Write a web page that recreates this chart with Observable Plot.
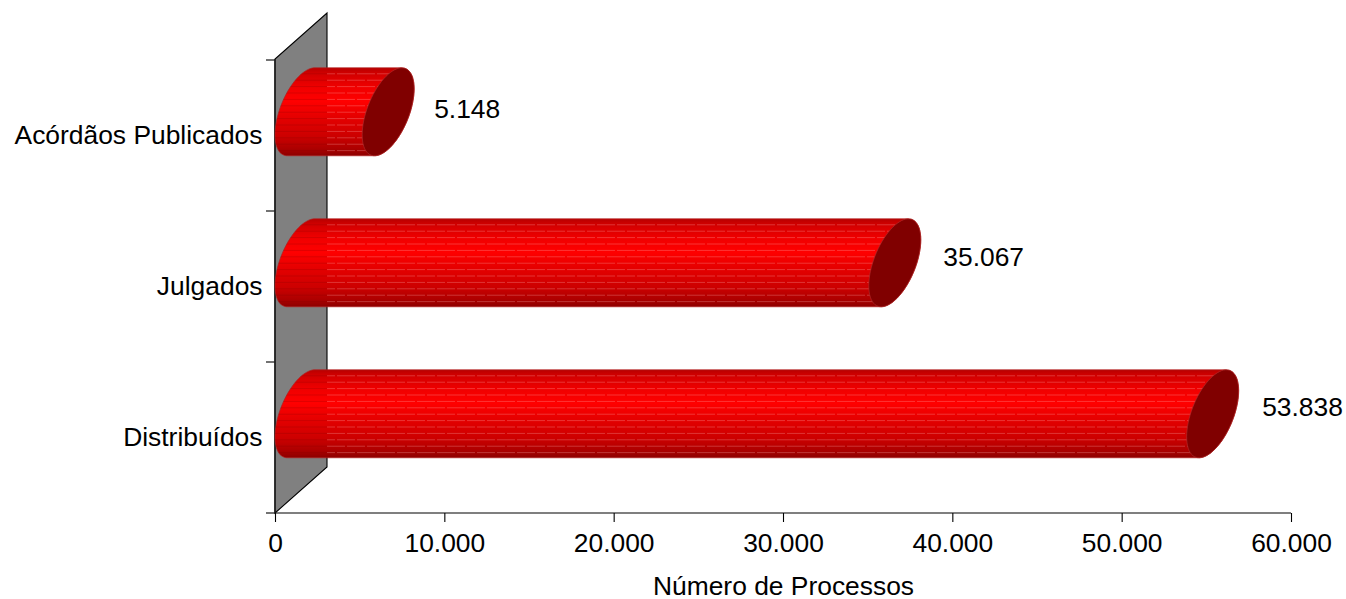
<!DOCTYPE html>
<html>
<head>
<meta charset="utf-8">
<script src="https://cdn.jsdelivr.net/npm/d3@7"></script>
<script src="https://cdn.jsdelivr.net/npm/@observablehq/plot@0.6"></script>
<style>
html,body{margin:0;padding:0;background:#fff}
svg{display:block}
</style>
</head>
<body>
<div id="chart"></div>
<script>
const categories = ["Acórdãos Publicados", "Julgados", "Distribuídos"];
const processos = [5148, 35067, 53838];
const xTicks = [0, 10000, 20000, 30000, 40000, 50000, 60000];
const xTitle = "Número de Processos";

const rows = categories.map((categoria, i) => ({categoria, valor: processos[i]}));
const ptBR = d3.formatLocale({decimal: ",", thousands: ".", grouping: [3], currency: ["R$", ""]});
const fmt = ptBR.format(",d");

// oblique projection of the 3D chart
const depthX = 52, depthY = 46, radius = 37.5;
const FONT = "'Liberation Sans', Arial, sans-serif";
const svgNS = "http://www.w3.org/2000/svg";
const el = (name, attrs, parent) => {
  const n = document.createElementNS(svgNS, name);
  for (const k in attrs) n.setAttribute(k, attrs[k]);
  if (parent) parent.appendChild(n);
  return n;
};

const wall = (index, scales, values, dims) => {
  const g = el("g", {});
  const x0 = scales.x(0), top = dims.marginTop, bot = dims.height - dims.marginBottom;
  el("polygon", {
    points: [[x0, bot], [x0 + depthX, bot - depthY], [x0 + depthX, top - depthY], [x0, top]].join(" "),
    fill: "#808080", stroke: "#000", "stroke-width": 1.1
  }, g);
  const ticks = categories.map(c => scales.y(c)).concat(bot);
  for (const t of ticks) el("line", {x1: x0 - 9, x2: x0, y1: t, y2: t, stroke: "#000", "stroke-width": 1.1}, g);
  el("line", {x1: x0, x2: x0, y1: top, y2: bot, stroke: "#222", "stroke-width": 1.6}, g);
  el("line", {x1: x0, x2: scales.x(xTicks[xTicks.length - 1]), y1: bot, y2: bot, stroke: "#000", "stroke-width": 1.1}, g);
  return g;
};

const cylinders = (index, scales, values, dims) => {
  const g = el("g", {});
  const defs = el("defs", {}, g);
  const band = scales.scales.y.bandwidth;
  const x0 = scales.x(0);
  const ellipse = (cx, cy) => d3.range(0, 72).map(i => {
    const t = i / 72 * 2 * Math.PI;
    return [cx + depthX / 2 * Math.sin(t), cy - radius * Math.cos(t) - depthY / 2 * Math.sin(t)];
  });
  const line = d3.line().curve(d3.curveLinearClosed);
  rows.forEach((r, i) => {
    const cy = scales.y(r.categoria) + band / 2 - depthY / 2 - 0.7;
    const xv = scales.x(r.valor);
    const left = ellipse(x0 + depthX / 2, cy);
    const right = ellipse(xv + depthX / 2, cy);
    const hull = d3.polygonHull(left.concat(right));
    const H = Math.sqrt(radius * radius + depthY * depthY / 4);
    const grad = el("linearGradient", {id: "g" + i, gradientUnits: "userSpaceOnUse", x1: 0, x2: 0, y1: cy - H, y2: cy + H}, defs);
    [[0, "#b80000"], [0.06, "#d00000"], [0.22, "#f00000"], [0.38, "#ff0000"], [0.55, "#e60000"], [0.78, "#cc0000"], [0.92, "#ac0000"], [1, "#8c0000"]]
      .forEach(([o, c]) => el("stop", {offset: o, "stop-color": c}, grad));
    const clip = el("clipPath", {id: "c" + i}, defs);
    el("path", {d: line(hull)}, clip);
    el("path", {d: line(hull), fill: `url(#g${i})`, stroke: "#b02020", "stroke-width": 0.7}, g);
    const stripes = el("g", {"clip-path": `url(#c${i})`}, g);
    const wallEnd = x0 + depthX;
    d3.range(cy - H + 6, cy + H, 6.4).forEach((yy, k) => {
      const offset = k % 2 ? 0 : 10;
      el("line", {x1: wallEnd, x2: xv + depthX, y1: yy, y2: yy, stroke: "#ffb8b8", "stroke-opacity": 0.36, "stroke-width": 0.8,
        "stroke-dasharray": "18 2", "stroke-dashoffset": offset}, stripes);
      el("line", {x1: x0, x2: wallEnd, y1: yy, y2: yy, stroke: "#800000", "stroke-opacity": 0.3, "stroke-width": 0.8}, stripes);
    });
    el("path", {d: line(right), fill: "#800000", stroke: "#b03030", "stroke-width": 0.6}, g);
  });
  return g;
};

const labelLift = {"Acórdãos Publicados": -26.5, "Julgados": -29.5, "Distribuídos": -30.5};
const labelShift = {"Acórdãos Publicados": 71.5, "Julgados": 74, "Distribuídos": 75};

const chart = Plot.plot({
  width: 1346,
  height: 599,
  marginLeft: 275,
  marginRight: 55,
  marginTop: 59,
  marginBottom: 86,
  style: {fontFamily: FONT, background: "#fff", overflow: "visible"},
  x: {domain: [0, 60000]},
  y: {domain: categories, padding: 0},
  marks: [
    wall,
    Plot.barX(rows, {x: "valor", y: "categoria", fill: "#ff0000", render: cylinders}),
    Plot.axisX({
      ticks: xTicks, tickFormat: d => d === 0 ? "0" : fmt(d), tickSize: 9, tickPadding: 11,
      fontSize: 26.4, stroke: "#000", strokeWidth: 1.1,
      label: xTitle, labelAnchor: "center", labelArrow: "none", labelOffset: 81
    }),
    Plot.axisY({tickSize: 0, tickPadding: 13, fontSize: 26.4, label: null, dy: -0.5}),
    ...categories.map(c => Plot.text(rows.filter(r => r.categoria === c), {
      x: "valor", y: "categoria", text: d => fmt(d.valor),
      textAnchor: "start", dx: labelShift[c], dy: labelLift[c], fontSize: 26.4, fill: "#000"
    }))
  ]
});
document.getElementById("chart").appendChild(chart);
</script>
</body>
</html>
